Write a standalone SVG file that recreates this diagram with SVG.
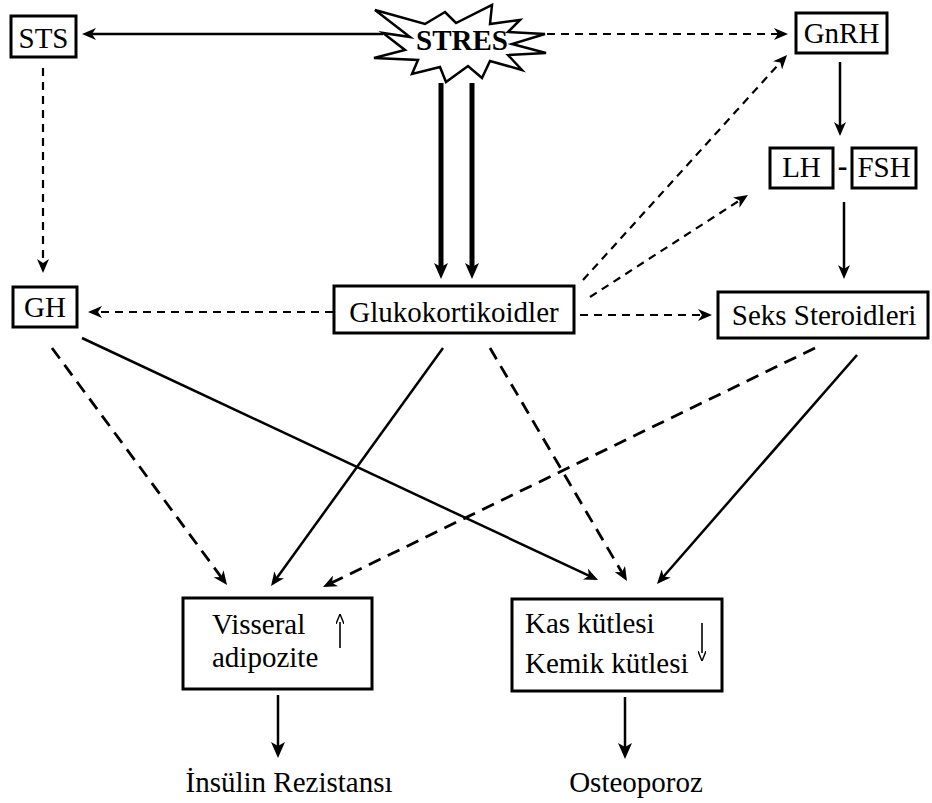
<svg xmlns="http://www.w3.org/2000/svg" width="932" height="803" viewBox="0 0 932 803">
  <style>
    text { font-family: "Liberation Serif", "Times New Roman", serif; font-size: 29px; fill: #000; }
    .box { fill: #fff; stroke: #000; stroke-width: 3; }
    .mid { text-anchor: middle; }
    .solid { stroke: #000; fill: none; stroke-width: 2.5; }
    .thick { stroke: #000; fill: none; stroke-width: 5; }
    .dash { stroke: #000; fill: none; stroke-width: 2.2; stroke-dasharray: 8 6; }
    .dashw { stroke: #000; fill: none; stroke-width: 2.8; stroke-dasharray: 13 8; }
    .thin { stroke: #000; fill: none; stroke-width: 1.6; }
  </style>
  <defs>
    <marker id="ah" viewBox="0 0 14 12" refX="5" refY="6" markerWidth="14" markerHeight="12" markerUnits="userSpaceOnUse" orient="auto">
      <path d="M0,0 L14,6 L0,12 L4,6 Z" fill="#000"/>
    </marker>
    <marker id="ahBig" viewBox="0 0 16 14" refX="5" refY="7" markerWidth="16" markerHeight="14" markerUnits="userSpaceOnUse" orient="auto">
      <path d="M0,0 L16,7 L0,14 L4,7 Z" fill="#000"/>
    </marker>
    <marker id="ahSmall" viewBox="0 0 10 8" refX="2" refY="4" markerWidth="10" markerHeight="8" markerUnits="userSpaceOnUse" orient="auto">
      <path d="M0,0 L10,4 L0,8" fill="none" stroke="#000" stroke-width="1.4"/>
    </marker>
  </defs>

  <!-- connectors -->
  <g id="connectors">
    <line class="solid" x1="383" y1="34" x2="91" y2="34" marker-end="url(#ah)" stroke-width="3"/>
    <line class="dash" x1="547" y1="34" x2="779" y2="34" marker-end="url(#ah)"/>
    <line class="dash" x1="43" y1="68" x2="43" y2="264" marker-end="url(#ah)"/>
    <line class="solid" x1="840" y1="62" x2="840" y2="127" marker-end="url(#ah)"/>
    <line class="solid" x1="844" y1="202" x2="844" y2="270" marker-end="url(#ah)"/>
    <line class="thick" x1="441" y1="83" x2="441" y2="268" marker-end="url(#ahBig)"/>
    <line class="thick" x1="472" y1="83" x2="472" y2="268" marker-end="url(#ahBig)"/>
    <line class="dash" x1="333" y1="312" x2="97" y2="312" marker-end="url(#ah)"/>
    <line class="dash" x1="580" y1="315" x2="703" y2="315" marker-end="url(#ah)"/>
    <line class="dash" x1="583" y1="280" x2="781" y2="61.7" marker-end="url(#ah)"/>
    <line class="dash" x1="590" y1="297" x2="740.4" y2="199.9" marker-end="url(#ah)"/>
    <line class="dashw" x1="52" y1="348" x2="221.7" y2="577.8" marker-end="url(#ah)"/>
    <line class="solid" x1="82" y1="338" x2="589.9" y2="576.2" marker-end="url(#ah)"/>
    <line class="solid" x1="443" y1="348" x2="276.3" y2="578.7" marker-end="url(#ah)"/>
    <line class="dashw" x1="490" y1="348" x2="622.4" y2="573.2" marker-end="url(#ah)"/>
    <line class="dashw" x1="815" y1="348" x2="331.1" y2="583.1" marker-end="url(#ah)"/>
    <line class="solid" x1="857" y1="355" x2="662.9" y2="577.2" marker-end="url(#ah)"/>
    <line class="solid" x1="278" y1="695" x2="278" y2="747" marker-end="url(#ahBig)" stroke-width="3"/>
    <line class="solid" x1="625" y1="697" x2="625" y2="748" marker-end="url(#ahBig)" stroke-width="3"/>
  </g>

  <!-- STRES starburst -->
  <g id="stres">
    <polygon fill="#fff" stroke="#000" stroke-width="2.5" stroke-linejoin="miter"
      points="545,34 512,44 546,53 508,55 522,70 490,61 482,78 468,66 446,82 440,67 412,74 418,60 374,58 405,50 383,33 410,37 375,10 425,24 445,12 456,23 492,5 490,24 520,20 508,32"/>
    <text class="mid" x="462" y="50" font-size="27" font-weight="bold">STRES</text>
  </g>

  <g id="sts">
    <rect class="box" x="11" y="16" width="65" height="41"/>
    <text class="mid" x="43.5" y="48" font-size="26">STS</text>
  </g>

  <g id="gnrh">
    <rect class="box" x="796" y="13" width="91" height="40"/>
    <text class="mid" x="841.5" y="43" font-size="28">GnRH</text>
  </g>

  <g id="lh">
    <rect class="box" x="770" y="148" width="63" height="40"/>
    <text class="mid" x="801.5" y="177" font-size="28">LH</text>
  </g>
  <text class="mid" x="842.5" y="176" font-size="28" font-weight="bold">-</text>
  <g id="fsh">
    <rect class="box" x="852" y="148" width="64" height="40"/>
    <text class="mid" x="884" y="177" font-size="28">FSH</text>
  </g>

  <g id="gh">
    <rect class="box" x="13" y="287" width="64" height="40"/>
    <text class="mid" x="45" y="317" font-size="28">GH</text>
  </g>

  <g id="glukokortikoidler">
    <rect class="box" x="334" y="286" width="240" height="47"/>
    <text class="mid" x="454" y="322">Glukokortikoidler</text>
  </g>

  <g id="seks-steroidleri">
    <rect class="box" x="718" y="292" width="210" height="46"/>
    <text class="mid" x="824" y="325">Seks Steroidleri</text>
  </g>

  <g id="visseral-adipozite">
    <rect class="box" x="183" y="598" width="189" height="91"/>
    <text x="212" y="634">Visseral</text>
    <text x="212" y="667">adipozite</text>
    <line class="thin" x1="340" y1="648" x2="340" y2="622" marker-end="url(#ahSmall)"/>
  </g>

  <g id="kas-kemik">
    <rect class="box" x="512" y="599" width="210" height="92"/>
    <text x="525" y="633">Kas kütlesi</text>
    <text x="525" y="673">Kemik kütlesi</text>
    <line class="thin" x1="702" y1="623" x2="702" y2="653" marker-end="url(#ahSmall)"/>
  </g>

  <g id="insulin-rezistansi">
    <text class="mid" x="289" y="792">İnsülin Rezistansı</text>
  </g>

  <g id="osteoporoz">
    <text class="mid" x="636" y="792">Osteoporoz</text>
  </g>
</svg>
